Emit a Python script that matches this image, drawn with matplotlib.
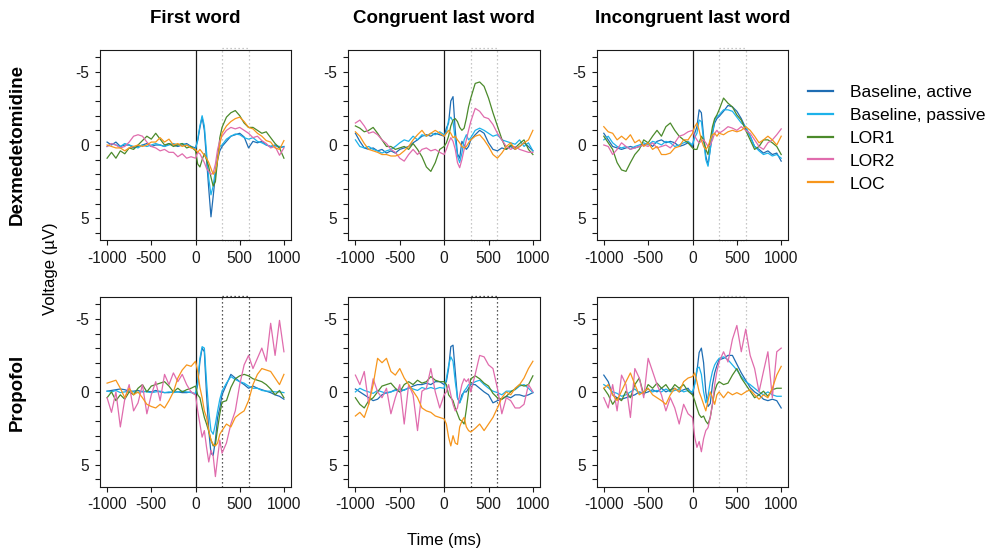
import matplotlib
matplotlib.use('Agg')
import matplotlib.pyplot as plt

plt.rcParams['font.family'] = ['Liberation Sans', 'DejaVu Sans']
plt.rcParams['axes.unicode_minus'] = False

# ---------------- data ----------------
time_ms = [-1000, -950, -900, -850, -800, -750, -700, -650, -600, -550,
           -500, -450, -400, -350, -300, -250, -200, -150, -100, -50,
           0, 25, 50, 75, 100, 125, 150, 175, 200, 225, 250, 275, 300,
           350, 400, 450, 500, 550, 600, 650, 700, 750, 800, 850, 900, 950, 1000]

conditions = ['Baseline, active', 'Baseline, passive', 'LOR1', 'LOR2', 'LOC']
column_titles = ['First word', 'Congruent last word', 'Incongruent last word']
row_titles = ['Dexmedetomidine', 'Propofol']
x_ticks = [-1000, -500, 0, 500, 1000]
y_ticks = [-6, -5, -4, -3, -2, -1, 0, 1, 2, 3, 4, 5, 6]
y_ticklabels = ['', '-5', '', '', '', '', '0', '', '', '', '', '5', '']

# Dexmedetomidine, first word
dex_first_BA = [-0.2, 0.0, -0.2, 0.1, 0.0, 0.0, 0.2, 0.1, 0.0, -0.1, 0.1, 0.0, 0.0, 0.1, -0.1, 0.0, 0.1, 0.0, -0.1, 0.1,
                0.2, -0.3, -1.2, -1.9, -1.0, 1.0, 3.0, 4.9, 3.5, 2.0, 1.0, 0.4, 0.1,
                -0.25, -0.6, -0.7, -0.8, -0.55, 0.2, -0.25, -0.15, -0.25, 0.0, 0.1, 0.0, 0.2, 0.1]
dex_first_BP = [0.1, -0.1, 0.0, 0.1, -0.1, 0.0, 0.1, 0.2, 0.0, 0.1, 0.0, -0.1, 0.0, 0.1, 0.0, -0.1, 0.0, -0.1, 0.0, 0.1,
                0.3, -0.4, -1.3, -2.0, -1.3, 0.5, 2.3, 3.4, 2.8, 1.7, 0.8, 0.1, 0.0,
                -0.4, -0.6, -0.75, -0.7, -0.5, -0.4, -0.5, -0.25, -0.15, 0.0, 0.1, 0.05, 0.1, 0.15]
dex_first_LOR1 = [0.9, 0.5, 0.9, 0.4, 0.6, 0.2, 0.3, 0.0, -0.3, -0.6, -0.4, -0.8, -0.4, 0.0, -0.1, 0.1, 0.0, -0.1, 0.2, 0.1,
                  0.4, 1.3, 1.5, 1.0, 0.6, 1.0, 1.5, 2.2, 2.8, 2.5, 1.0, -0.5, -1.2,
                  -1.9, -2.2, -2.35, -2.0, -1.5, -1.2, -1.2, -1.0, -0.8, -0.9, -0.5, -0.1, 0.2, 0.9]
dex_first_LOR2 = [0.1, -0.1, 0.0, 0.2, 0.1, -0.2, -0.6, -0.7, -0.6, -0.2, 0.1, 0.2, 0.4, 0.3, 0.5, 0.5, 0.8, 0.6, 0.9, 0.8,
                  0.9, 0.5, 0.6, 0.9, 1.2, 1.6, 1.8, 2.0, 1.9, 1.3, 0.3, -0.3, -0.6,
                  -1.0, -1.2, -1.1, -1.2, -1.0, -0.8, -0.5, -0.6, -0.3, -0.1, 0.2, 0.1, 0.7, 0.2]
dex_first_LOC = [0.0, 0.1, 0.2, 0.2, 0.4, 0.2, 0.1, 0.0, 0.1, 0.0, -0.2, -0.2, -0.5, -0.2, -0.4, 0.0, -0.1, 0.1, 0.0, 0.2,
                 0.3, 0.5, 0.3, 0.5, 0.7, 0.9, 1.2, 1.6, 2.0, 1.8, 1.0, 0.0, -0.8,
                 -1.3, -1.6, -1.8, -1.9, -1.6, -1.2, -1.1, -0.8, -0.6, -0.3, -0.2, 0.2, 0.3, -0.3]

# Dexmedetomidine, congruent last word
dex_cong_BA = [-0.8, -0.25, 0.2, 0.3, 0.2, 0.4, 0.3, 0.55, 0.4, 0.55, 0.3, 0.2, 0.1, -0.15, -0.35, -0.6, -0.7, -0.6, -0.8, -0.7,
               -0.6, -1.15, -1.5, -3.0, -3.3, -1.0, 0.6, 0.9, -0.25, 0.0, 0.3, 0.1, -0.35,
               -0.7, -1.0, -0.8, -0.15, 0.3, 0.4, 0.2, 0.3, 0.1, 0.3, 0.1, -0.15, 0.1, 0.4]
dex_cong_BP = [-0.35, 0.1, 0.2, 0.1, 0.3, 0.4, 0.55, 0.4, 0.3, 0.1, -0.15, -0.35, -0.25, -0.6, -0.35, -0.7, -0.6, -0.8, -0.7, -0.9,
               -0.7, -0.8, -1.7, -1.9, -1.6, -0.35, 0.75, 1.2, 0.55, -0.35, -0.7, -0.35, -0.5,
               -1.0, -1.15, -1.0, -0.8, -0.6, -0.7, -0.35, -0.25, -0.15, -0.05, -0.35, 0.1, -0.15, 0.4]
dex_cong_LOR1 = [-1.3, -1.15, -0.9, -1.0, -1.2, -0.8, -0.35, 0.1, 0.1, 0.3, 0.2, 0.1, 0.3, -0.1, 0.3, 0.8, 1.5, 1.8, 1.2, 0.3,
                 0.1, -0.15, -0.6, -1.3, -1.7, -1.8, -1.6, -1.2, -1.0, -1.15, -1.8, -2.6, -3.2,
                 -4.2, -4.3, -4.0, -3.2, -2.2, -1.3, -0.4, 0.3, 0.0, 0.2, -0.1, -0.35, 0.3, 0.65]
dex_cong_LOR2 = [-1.5, -1.7, -1.3, -0.8, -0.9, -0.7, -0.35, -0.1, 0.3, 0.5, 0.9, 1.1, 0.65, 0.3, 0.65, 0.3, 0.2, 0.4, 0.3, 0.5,
                 0.65, 0.3, -0.15, -0.5, -0.25, 0.3, 1.2, 1.55, 1.0, 0.3, -0.35, -1.0, -1.6,
                 -2.5, -2.3, -1.9, -1.8, -1.4, -0.8, -0.35, 0.1, 0.3, 0.1, 0.3, 0.4, 0.5, 0.5]
dex_cong_LOC = [-0.9, -0.6, -0.1, 0.3, 0.4, 0.5, 0.65, 0.65, 0.75, 0.75, 0.65, 0.4, 0.1, -0.35, -0.7, -1.0, -0.6, -0.8, -1.0, -0.8,
                -0.6, -0.8, -1.0, -0.8, -0.5, -0.6, -0.35, -0.15, 0.1, 0.2, 0.1, -0.15, -0.35,
                -0.6, -0.7, -0.35, 0.1, 0.65, 0.9, 0.55, 0.1, -0.15, 0.3, 0.1, -0.15, -0.35, -1.0]

# Dexmedetomidine, incongruent last word
dex_incong_BA = [-0.8, -0.35, 0.1, 0.2, 0.3, 0.2, 0.1, 0.2, 0.1, 0.0, -0.15, 0.1, -0.25, -0.35, -0.15, -0.25, -0.15, 0.1, 0.0, -0.15,
                 0.1, -0.8, -1.25, -2.4, -2.2, -0.6, 0.75, 1.35, 0.3, -0.8, -1.5, -1.8, -1.95,
                 -2.3, -2.7, -2.6, -2.3, -1.8, -1.15, -0.6, 0.1, 0.3, 0.55, 0.4, 0.65, 0.55, 1.1]
dex_incong_BP = [-0.35, -0.6, -0.15, 0.1, 0.2, 0.1, 0.3, 0.1, 0.0, -0.15, 0.0, -0.25, -0.15, 0.0, -0.25, -0.15, 0.1, 0.0, -0.15, -0.25,
                 0.0, -0.5, -0.8, -1.7, -1.6, -0.35, 1.0, 1.45, 0.3, -0.8, -1.7, -1.95, -2.05,
                 -2.4, -2.4, -2.3, -1.9, -1.5, -1.25, -0.6, 0.1, 0.4, 0.65, 0.55, 0.75, 0.65, 0.9]
dex_incong_LOR1 = [-0.6, -0.15, 0.3, 1.2, 1.7, 1.8, 1.2, 0.65, 0.3, -0.35, -0.15, -0.6, -1.0, -0.6, -1.25, -1.5, -1.0, -0.6, -0.35, -0.15,
                   0.2, 0.3, 0.3, -0.15, -0.6, -0.35, 0.3, 0.65, -0.35, -1.25, -1.8, -2.05, -2.4,
                   -3.2, -2.85, -2.6, -2.05, -1.7, -1.0, -0.35, 0.3, 0.1, -0.35, -0.35, -0.15, 0.1, 0.65]
dex_incong_LOR2 = [0.0, 0.1, 0.65, 0.3, -0.15, 0.1, 0.3, 0.2, 0.1, 0.0, 0.1, -0.15, 0.2, 0.1, 0.0, 0.2, -0.15, -0.6, -0.7, -0.9,
                   -1.0, -0.6, -0.35, -0.15, -0.25, -0.35, -0.15, 0.1, 0.0, -0.35, -0.8, -1.0, -0.8,
                   -1.0, -1.25, -1.15, -1.0, -1.25, -1.0, -0.8, -0.35, 0.1, 0.3, -0.15, -0.35, -0.7, -1.1]
dex_incong_LOC = [-1.25, -0.9, -0.8, -0.35, -0.6, -0.35, -0.7, -0.15, -0.35, 0.1, -0.15, 0.3, 0.1, 0.65, 0.65, 0.55, 0.2, 0.1, -0.35, -0.35,
                  -0.8, -1.25, -1.5, -1.0, -0.35, 0.1, 0.3, 0.1, -0.35, -0.7, -0.8, -0.6, -0.8,
                  -0.7, -0.9, -1.0, -0.9, -1.0, -1.25, -1.0, -0.6, -0.15, -0.35, -0.6, -0.35, 0.0, -0.6]

# Propofol, first word
prop_first_BA = [-0.05, -0.1, -0.15, -0.2, -0.15, -0.05, -0.05, -0.1, 0.0, -0.05, 0.0, -0.1, 0.0, 0.05, 0.05, 0.0, 0.0, 0.05, 0.05, 0.0,
                 0.2, -0.5, -2.1, -3.0, -2.75, 0.2, 2.65, 4.2, 4.35, 3.3, 1.75, 1.1, 0.2,
                 -0.5, -1.2, -0.95, -0.7, -0.5, -0.25, -0.4, -0.25, -0.15, -0.05, 0.05, 0.2, 0.3, 0.5]
prop_first_BP = [-0.05, 0.0, -0.1, 0.05, 0.0, -0.05, 0.0, 0.05, -0.05, 0.0, 0.05, 0.0, -0.05, 0.05, 0.0, 0.05, 0.0, -0.05, 0.0, 0.05,
                 0.1, -0.7, -2.3, -3.1, -3.0, -0.7, 1.3, 2.65, 2.9, 2.2, 1.3, 0.5, -0.05,
                 -0.6, -1.05, -0.85, -0.7, -0.6, -0.4, -0.25, -0.25, -0.1, -0.05, -0.05, 0.0, 0.0, 0.05]
prop_first_LOR1 = [0.4, 0.0, 0.6, 0.2, 0.5, 0.0, 0.2, -0.25, -0.5, 0.0, -0.4, -0.5, -0.6, -0.7, -0.4, 0.0, -0.25, 0.0, -0.15, -0.25,
                   -0.4, 0.2, 0.4, 1.1, 1.75, 2.2, 2.7, 3.3, 3.7, 3.6, 2.5, 1.5, 0.7,
                   0.6, -0.3, -0.9, -1.1, -1.2, -1.1, -0.9, -0.8, -0.7, -0.5, -0.2, 0.2, -0.1, 0.4]
prop_first_LOR2 = [0.4, 1.4, 0.0, 2.4, 0.5, -0.5, 1.3, 0.75, -0.5, 1.5, 0.2, -0.7, 0.6, -1.2, -0.5, -1.3, -0.7, -1.2, -0.5, 0.0,
                   0.2, 1.3, 2.2, 3.1, 2.65, 3.8, 4.8, 4.0, 4.4, 5.8, 4.5, 3.3, 4.2,
                   3.5, 2.2, 1.3, -0.5, -1.85, -2.5, -1.6, -2.3, -3.0, -2.1, -4.7, -2.5, -4.9, -2.75]
prop_first_LOC = [-0.6, -0.7, -0.8, -0.25, 0.4, -0.25, 0.2, 0.0, 0.4, 0.85, 1.0, 1.1, 0.85, 1.1, 0.6, 0.0, -0.95, -1.5, -1.85, -1.75,
                  -2.1, -1.4, -0.3, 0.4, 1.3, 1.75, 2.65, 3.3, 3.6, 3.7, 3.5, 2.9, 2.65,
                  2.2, 2.4, 1.75, 1.5, 1.3, 0.6, -0.5, -1.2, -1.6, -1.5, -1.4, -0.95, -0.5, -1.2]

# Propofol, congruent last word
prop_cong_BA = [-0.2, 0.0, 0.2, 0.4, 0.6, 0.5, 0.2, 0.05, 0.0, -0.15, 0.0, -0.15, -0.25, -0.4, -0.5, -0.5, -0.6, -0.5, -0.7, -0.7,
                -0.5, -0.7, -1.6, -3.1, -3.2, -1.4, 0.4, 0.75, 0.2, 0.0, 0.0, -0.25, -0.5,
                -0.5, -0.25, 0.0, 0.2, 0.75, 0.6, 0.5, 0.3, 0.4, 0.2, 0.2, 0.3, 0.2, 0.05]
prop_cong_BP = [0.0, -0.25, -0.1, 0.0, 0.1, -0.1, 0.0, 0.1, 0.0, -0.1, -0.2, -0.1, -0.3, -0.2, -0.1, -0.3, -0.2, -0.3, -0.2, -0.3,
                -0.25, -0.9, -1.8, -2.4, -2.1, -0.7, 0.4, 0.75, 0.4, -0.05, -0.25, -0.5, -0.5,
                -0.7, -0.8, -0.5, -0.25, -0.05, 0.05, 0.2, -0.05, -0.05, -0.15, -0.4, -0.5, -0.25, 0.05]
prop_cong_LOR1 = [0.4, 0.85, 1.1, 0.6, 0.4, 0.0, -0.4, -0.5, -0.6, -0.25, 0.0, -0.5, -0.7, -0.5, -0.8, -0.6, -0.7, -1.05, -0.8, -0.7,
                  -0.7, -0.5, 0.2, 0.4, 0.6, 1.1, 1.5, 1.9, 2.0, 2.2, 1.2, 0.0, -0.9,
                  -1.1, -0.9, -0.6, -0.4, 0.1, 0.4, 0.5, 0.3, 0.0, -0.2, -0.5, -0.4, -0.5, -1.1]
prop_cong_LOR2 = [-1.15, -0.5, -1.4, 0.85, -0.9, 0.0, 0.4, -0.25, 1.5, 0.4, -0.5, 2.2, -0.5, 0.2, 2.65, -0.05, -0.25, -1.6, 0.0, 1.1,
                  0.2, 0.0, -0.5, 0.2, 0.85, 1.3, 1.1, 0.2, -0.5, -0.9, -0.7, -0.9, 0.0,
                  -1.2, -2.5, -2.4, -1.85, -1.6, -0.25, 1.5, 0.4, 0.6, 1.1, 1.1, 0.85, -0.5, 0.0]
prop_cong_LOC = [1.65, 1.4, 1.75, 0.85, -0.5, -2.3, -2.0, -2.3, -1.4, -1.15, -1.6, -0.95, -0.5, -0.05, 0.4, 1.1, 1.3, 1.4, 1.65, 1.75,
                 1.85, 2.2, 3.1, 3.7, 3.0, 3.5, 3.6, 2.4, 2.0, 1.75, 2.4, 2.65, 2.75,
                 2.5, 2.2, 2.65, 2.2, 1.75, 1.1, 0.4, 0.0, 0.2, -0.25, -0.5, -0.95, -1.6, -2.1]

# Propofol, incongruent last word
prop_incong_BA = [-1.15, -0.7, 0.2, 0.4, 0.5, 0.4, 0.3, 0.2, 0.0, 0.1, 0.0, -0.15, 0.0, -0.25, 0.0, -0.15, -0.25, 0.0, -0.15, -0.25,
                  0.2, -0.6, -1.4, -2.7, -3.0, -2.0, 0.0, 1.0, 0.8, -0.5, -1.3, -1.8, -2.2,
                  -2.3, -2.5, -2.5, -1.9, -1.3, -0.8, -0.3, 0.0, 0.2, 0.5, 0.6, 0.5, 0.6, 1.1]
prop_incong_BP = [-0.5, -0.3, 0.0, 0.1, 0.3, 0.2, 0.0, -0.2, 0.1, 0.0, -0.2, 0.0, -0.1, 0.0, -0.2, 0.0, -0.1, -0.2, 0.0, -0.1,
                  0.0, -0.5, -1.6, -1.7, -1.2, 0.0, 0.75, 0.3, -0.7, -1.4, -1.85, -2.1, -2.3,
                  -2.4, -2.2, -1.85, -1.5, -1.05, -0.7, -0.5, -0.25, 0.0, 0.2, 0.0, 0.2, 0.3, 0.3]
prop_incong_LOR1 = [-0.25, 0.2, 0.85, 0.4, 0.6, -0.05, 0.4, -0.5, -0.95, 0.2, -0.5, -0.25, -0.6, -0.25, -0.5, -0.05, -0.5, -0.25, -0.5, -0.05,
                    0.2, 0.6, 1.1, 1.55, 1.75, 1.65, 2.0, 2.2, 1.75, 0.85, -0.05, -0.5, -0.7,
                    -0.5, -0.6, -1.15, -1.6, -0.95, -0.5, -0.05, 0.4, 0.2, -0.05, 0.3, -0.15, -0.25, -0.25]
prop_incong_LOR2 = [0.4, 1.1, -0.5, 1.3, -1.15, -0.5, 1.75, -1.6, -0.95, 0.4, -2.3, -1.4, -0.5, 0.2, 1.3, 0.4, 1.1, 2.2, 0.85, 1.5,
                    1.75, 3.1, 3.8, 3.4, 4.1, 3.2, 2.65, 2.45, 1.75, 0.85, -0.5, -1.4, -2.05,
                    -2.75, -2.05, -3.6, -4.55, -2.75, -4.3, -2.5, -1.6, 0.0, -1.4, -2.75, 0.4, -2.75, -3.0]
prop_incong_LOC = [-0.25, -0.5, 0.2, 0.6, -0.05, -0.7, -1.3, -0.5, 0.2, 0.0, -0.25, 0.2, 0.4, 0.6, 0.85, 0.2, -0.25, 0.0, -0.7, -0.95,
                   -1.05, -1.3, -0.7, 0.0, 0.4, 0.85, 1.3, 0.6, 0.0, 0.4, 0.85, 0.2, 0.0,
                   0.4, 0.0, 0.2, 0.05, 0.2, 0.0, -0.15, 0.2, 0.5, 0.2, 0.4, -0.25, -1.15, -1.75]

panels = [
    [[dex_first_BA, dex_first_BP, dex_first_LOR1, dex_first_LOR2, dex_first_LOC],
     [dex_cong_BA, dex_cong_BP, dex_cong_LOR1, dex_cong_LOR2, dex_cong_LOC],
     [dex_incong_BA, dex_incong_BP, dex_incong_LOR1, dex_incong_LOR2, dex_incong_LOC]],
    [[prop_first_BA, prop_first_BP, prop_first_LOR1, prop_first_LOR2, prop_first_LOC],
     [prop_cong_BA, prop_cong_BP, prop_cong_LOR1, prop_cong_LOR2, prop_cong_LOC],
     [prop_incong_BA, prop_incong_BP, prop_incong_LOR1, prop_incong_LOR2, prop_incong_LOC]],
]

# ---------------- style ----------------
colors = ['#1f6db3', '#1db2ea', '#4b8a2b', '#e06cad', '#f7961c']
window_colors = [['#b5b5b5', '#b5b5b5', '#b5b5b5'],
                 ['#222222', '#222222', '#b5b5b5']]

W, H = 994, 551
fig = plt.figure(figsize=(W / 100, H / 100), dpi=100)

col_px = [(100, 291), (348.3, 540), (596.7, 788.3)]
row_px = [(50, 240), (297.3, 486.5)]

axes = []
for r in range(2):
    for c in range(3):
        x0, x1 = col_px[c]
        y0, y1 = row_px[r]
        ax = fig.add_axes([x0 / W, 1 - y1 / H, (x1 - x0) / W, (y1 - y0) / H])
        for k in range(5):
            ax.plot(time_ms, panels[r][c][k], color=colors[k], lw=0.9,
                    label=conditions[k], zorder=3)
        ax.axvline(0, color='#1a1a1a', lw=0.9, zorder=2)
        wc = window_colors[r][c]
        dot = (0, (1, 2.2))
        for xv in (300, 600):
            ax.plot([xv, xv], [6.48, -6.6], color=wc, lw=0.9, ls=dot,
                    clip_on=False, zorder=1)
        ax.plot([300, 600], [-6.6, -6.6], color=wc, lw=0.9, ls=dot,
                clip_on=False, zorder=1)
        ax.plot([300, 600], [6.52, 6.52], color=wc, lw=0.6, ls=dot,
                clip_on=False, zorder=1, alpha=0.6)
        ax.set_xlim(-1080, 1080)
        ax.set_ylim(6.48, -6.48)
        ax.set_xticks(x_ticks)
        ax.set_xticklabels([str(v) for v in x_ticks])
        ax.set_yticks(y_ticks)
        ax.set_yticklabels(y_ticklabels)
        ax.tick_params(direction='out', length=3.8, width=0.8, labelsize=11.2,
                       pad=4, colors='#1a1a1a')
        for sp in ax.spines.values():
            sp.set_linewidth(0.8)
            sp.set_color('#1a1a1a')
        axes.append(ax)

# titles
for c in range(3):
    cx = (col_px[c][0] + col_px[c][1]) / 2
    fig.text(cx / W, 1 - 18.5 / H, column_titles[c], ha='center', va='center',
             fontsize=13.5, fontweight='bold')
for r in range(2):
    cy = (row_px[r][0] + row_px[r][1]) / 2
    fig.text(17 / W, 1 - cy / H, row_titles[r], ha='center', va='center',
             rotation=90, fontsize=13.5, fontweight='bold')

fig.text(50 / W, 1 - 269 / H, 'Voltage (µV)', ha='center', va='center',
         rotation=90, fontsize=12)
fig.text(444 / W, 1 - 540 / H, 'Time (ms)', ha='center', va='center', fontsize=12)

handles, labels = axes[0].get_legend_handles_labels()
leg = fig.legend(handles, labels, loc='center left',
                 bbox_to_anchor=(808 / W, 1 - 138 / H), frameon=False,
                 fontsize=12.5, handlelength=1.45, handletextpad=0.95,
                 labelspacing=0.45, borderpad=0, borderaxespad=0)
for h in leg.legend_handles:
    h.set_linewidth(1.6)

fig.savefig('out.png', dpi=100)
